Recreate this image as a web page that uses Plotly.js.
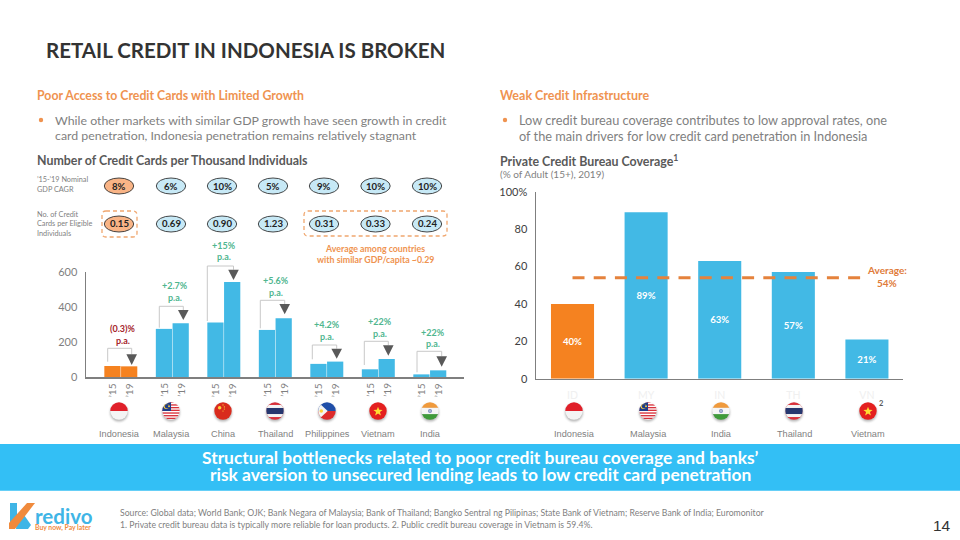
<!DOCTYPE html>
<html>
<head>
<meta charset="utf-8">
<script src="https://cdn.plot.ly/plotly-3.0.1.min.js"></script>
<style>html,body{margin:0;padding:0;background:#fff}#c{width:960px;height:540px}</style>
</head>
<body>
<div id="c"></div>
<script>
// ---- data ----
const countries = ["Indonesia","Malaysia","China","Thailand","Philippines","Vietnam","India"];
const cards2015 = [63,275,311,269,75,44,15];
const cards2019 = [61,307,543,336,88,103,38];
const growthLabels = ["(0.3)%","+2.7%","+15%","+5.6%","+4.2%","+22%","+22%"];
const gdpCagr = ["8%","6%","10%","5%","9%","10%","10%"];
const cardsPerEligible = ["0.15","0.69","0.90","1.23","0.31","0.33","0.24"];
const leftTicks = [0,200,400,600];
const coverageCodes = ["ID","MY","IN","TH","VN"];
const coverageNames = ["Indonesia","Malaysia","India","Thailand","Vietnam"];
const coverageValues = [40,89,63,57,21];
const coverageAverage = [54,54];
const rightTicks = [0,20,40,60,80,100];
const rightTickText = ["0","20","40","60","80","100%"];

// ---- styling ----
const F = "Lato, Carlito, sans-serif", ARIAL = "'Liberation Sans', Arial, sans-serif";
const BLUE="#42B9E5", ORANGE="#F58220", LORANGE="#EF9350", GREEN="#4FB68F", RED="#A5232A", GRAY="#7F7F7F", DARK="#595959";
const px=x=>x/960, py=y=>1-y/540;
const ann=[], shapes=[], images=[];
function T(text,x,y,size,color,bold,anchor,font){
  const a=anchor||"left";
  ann.push({text:bold?"<b>"+text+"</b>":text,xref:"paper",yref:"paper",x:px(a==="left"?x-1:x),y:py(y),xanchor:a,yanchor:"middle",
    showarrow:false,borderpad:0,font:{family:font||F,size:size,color:color}});
}
function P(pts,opts){ // pts: [[x,y],...]
  const d=pts.map((p,i)=>(i?"L":"M")+px(p[0])+","+py(p[1])).join(" ")+(opts.close?" Z":"");
  shapes.push({type:"path",xref:"paper",yref:"paper",path:d,line:{color:opts.line||"rgba(0,0,0,0)",width:opts.w||0,dash:opts.dash||"solid"},fillcolor:opts.fill||"rgba(0,0,0,0)",layer:opts.layer||"above"});
}
function E(cx,cy,rx,ry,fill,line,w){
  shapes.push({type:"circle",xref:"paper",yref:"paper",x0:px(cx-rx),x1:px(cx+rx),y0:py(cy+ry),y1:py(cy-ry),fillcolor:fill,line:{color:line||fill,width:w||0}});
}
function roundBox(x0,y0,x1,y1,r){
  const d=`M${px(x0+r)},${py(y0)} L${px(x1-r)},${py(y0)} Q${px(x1)},${py(y0)} ${px(x1)},${py(y0+r)} L${px(x1)},${py(y1-r)} Q${px(x1)},${py(y1)} ${px(x1-r)},${py(y1)} L${px(x0+r)},${py(y1)} Q${px(x0)},${py(y1)} ${px(x0)},${py(y1-r)} L${px(x0)},${py(y0+r)} Q${px(x0)},${py(y0)} ${px(x0+r)},${py(y0)} Z`;
  shapes.push({type:"path",xref:"paper",yref:"paper",path:d,line:{color:"#F0A76F",width:1.3,dash:"4px,3px"}});
}

// ---- flags ----
const flagArt={
 Indonesia:`<rect width="28" height="14" fill="#E0202A"/><rect y="14" width="28" height="14" fill="#F4F4F4"/>`,
 Malaysia:`<rect width="28" height="28" fill="#fff"/><g fill="#D8303A"><rect width="28" height="2"/><rect y="4" width="28" height="2"/><rect y="8" width="28" height="2"/><rect y="12" width="28" height="2"/><rect y="16" width="28" height="2"/><rect y="20" width="28" height="2"/><rect y="24" width="28" height="2"/></g><rect width="14" height="14" fill="#1F3C88"/><circle cx="7" cy="7" r="4" fill="#FFD23C"/><circle cx="8.2" cy="7" r="3.4" fill="#1F3C88"/><circle cx="11" cy="7" r="1.4" fill="#FFD23C"/>`,
 China:`<rect width="28" height="28" fill="#D92B1D"/><circle cx="9" cy="9" r="2.6" fill="#FFD23C"/><circle cx="14" cy="5" r=".9" fill="#FFD23C"/><circle cx="16" cy="8" r=".9" fill="#FFD23C"/><circle cx="16" cy="11" r=".9" fill="#FFD23C"/><circle cx="14" cy="14" r=".9" fill="#FFD23C"/>`,
 Thailand:`<rect width="28" height="28" fill="#D8303A"/><rect y="5" width="28" height="18" fill="#F4F4F4"/><rect y="9.5" width="28" height="9" fill="#26376F"/>`,
 Philippines:`<rect width="28" height="14" fill="#1F4EA8"/><rect y="14" width="28" height="14" fill="#DD2B2B"/><path d="M0,0 L15,14 L0,28 Z" fill="#F4F4F4"/><circle cx="5.5" cy="14" r="2.6" fill="#FFD23C"/>`,
 Vietnam:`<rect width="28" height="28" fill="#E4201F"/><path d="M14,7.5 L15.8,12.3 L20.9,12.4 L16.9,15.6 L18.3,20.5 L14,17.7 L9.7,20.5 L11.1,15.6 L7.1,12.4 L12.2,12.3 Z" fill="#FFDD33"/>`,
 India:`<rect width="28" height="9.3" fill="#F09A3C"/><rect y="9.3" width="28" height="9.4" fill="#F6F6F6"/><rect y="18.7" width="28" height="9.3" fill="#3F9B3A"/><circle cx="14" cy="14" r="3" fill="#7F8FBF"/><circle cx="14" cy="14" r="1" fill="#F6F6F6"/>`
};
function flag(name,cx,cy){
  const svg=`<svg xmlns="http://www.w3.org/2000/svg" width="120" height="120" viewBox="0 0 32 32"><defs><filter id="b" x="-30%" y="-30%" width="160%" height="160%"><feGaussianBlur stdDeviation="1"/></filter><clipPath id="k"><circle cx="16" cy="16" r="8.7"/></clipPath></defs><ellipse cx="16" cy="17.6" rx="9" ry="9" fill="#777" opacity=".55" filter="url(#b)"/><g clip-path="url(#k)"><g transform="translate(6.6,6.6) scale(.672)">${flagArt[name]}</g></g></svg>`;
  images.push({source:"data:image/svg+xml;charset=utf-8,"+encodeURIComponent(svg),xref:"paper",yref:"paper",x:px(cx-16),y:py(cy-16),sizex:32/960,sizey:32/540,sizing:"stretch",xanchor:"left",yanchor:"top",layer:"above"});
}

// ---- slide text ----
T("RETAIL CREDIT IN INDONESIA IS BROKEN",46,50,20.5,"#333333",true);
T("Poor Access to Credit Cards with Limited Growth",37,95,12.3,LORANGE,true);
E(41,120,2.2,2.2,LORANGE);
T("While other markets with similar GDP growth have seen growth in credit",55,120,12.35,GRAY);
T("card penetration, Indonesia penetration remains relatively stagnant",55,136,12.35,GRAY);
T("Number of Credit Cards per Thousand Individuals",37,160,12.4,DARK,true);
T("’15-’19 Nominal",37,179,7.3,GRAY); T("GDP CAGR",37,189,7.3,GRAY);
T("No. of Credit",37,214.5,7.3,GRAY); T("Cards per Eligible",37,224,7.3,GRAY); T("Individuals",37,233.5,7.3,GRAY);

T("Weak Credit Infrastructure",499.5,95,12.5,LORANGE,true);
E(505,120,2.2,2.2,LORANGE);
T("Low credit bureau coverage contributes to low approval rates, one",519,120,12.75,GRAY);
T("of the main drivers for low credit card penetration in Indonesia",519,136,12.75,GRAY);
T("Private Credit Bureau Coverage<sup>1</sup>",500,160,12.4,DARK,true);
T("(% of Adult (15+), 2019)",500,173.5,10,GRAY);

// ---- banner and footer ----
shapes.push({type:"rect",xref:"paper",yref:"paper",x0:0,x1:1,y0:py(490.7),y1:py(444),fillcolor:"#33BFF5",line:{width:0},layer:"below"});
T("Structural bottlenecks related to poor credit bureau coverage and banks’",480,457.5,17.4,"#fff",true,"center");
T("risk aversion to unsecured lending leads to low credit card penetration",480,474,17.4,"#fff",true,"center");
T("Source: Global data; World Bank; OJK; Bank Negara of Malaysia; Bank of Thailand; Bangko Sentral ng Pilipinas; State Bank of Vietnam; Reserve Bank of India; Euromonitor",120,512.5,8.68,GRAY);
T("1. Private credit bureau data is typically more reliable for loan products. 2. Public credit bureau coverage in Vietnam is 59.4%.",120,524,8.68,GRAY);
T("14",941.7,525,15.5,"#333333",false,"center",ARIAL);
// logo
P([[10,503],[17,503],[17,516],[10,523]],{fill:"#3FB5E6",close:true});
P([[16,529],[28,529],[31,525],[22,512],[17,517]],{fill:"#3FB5E6",close:true});
P([[27,503],[35,503],[15,529],[9,529],[9,523]],{fill:"#F08A3C",close:true});
T("redivo",35,515.5,20.5,"#3FB5E6",true);
T("Buy now, Pay later",35,527.5,6.8,"#F08A3C",true);

// ---- left chart decorations ----
const bubbleX=[119,171,222,273,324,375.5,427];
gdpCagr.forEach((t,i)=>{E(bubbleX[i],186,14.7,8,i?"#C7E9F6":"#F9B486","#333333",0.9);T(t,bubbleX[i],186,9.6,"#222",true,"center");});
cardsPerEligible.forEach((t,i)=>{E(bubbleX[i],224,14.7,8,i?"#C7E9F6":"#F9B486","#333333",0.9);T(t,bubbleX[i],224,9.6,"#222",true,"center");});
roundBox(102,211,137,237,4); roundBox(304,211,447,236,4);
T("Average among countries",375,248,8.8,LORANGE,true,"center");
T("with similar GDP/capita ~0.29",375,259,8.8,LORANGE,true,"center");

const bracket=[ // [left x, top y, left-leg bottom y, right x, tri top y, tri bottom y] in slide pixels
 [107.7,348.3,361.7,131.7,354.3,365],[159.3,306.3,327.7,183.3,310,320],[207.3,266,321,233.5,269.7,280],
 [260.3,300.3,328.3,284.7,304,314.3],[312.3,345,359.3,336.7,348.7,358.7],[364.3,341.3,365,388.3,345.3,355.7],[417,351.3,372.3,441.7,356.3,366.7]];
const growthY=[[328.7,340.3],[285.7,297.3],[245.7,257],[280.7,292.3],[324.3,336],[321.7,333.3],[332,343.3]];
const growthX=[123,175,224.3,275.7,327.3,380,433];
bracket.forEach((b,i)=>{
  P([[b[0],b[2]],[b[0],b[1]],[b[3],b[1]],[b[3],b[4]]],{line:"#C8C8C8",w:1});
  P([[b[3]-5.3,b[4]],[b[3]+5.3,b[4]],[b[3],b[5]]],{fill:"#595959",close:true});
  const c=i?GREEN:RED;
  T(growthLabels[i],growthX[i],growthY[i][0],9,c,true,"center");
  T("p.a.",growthX[i],growthY[i][1],9,c,true,"center");
});
const flagX=[119,171,223,275,327,378,430];
countries.forEach((c,i)=>{
  flag(c,flagX[i],411);
  T(c,flagX[i],433.5,9.2,GRAY,false,"center",ARIAL);
  ann.push({text:"’15",xref:"x",yref:"paper",x:c,xshift:-8.5,y:py(390),yanchor:"middle",xanchor:"center",textangle:-90,showarrow:false,borderpad:0,font:{family:F,size:10,color:GRAY}});
  ann.push({text:"’19",xref:"x",yref:"paper",x:c,xshift:8.5,y:py(390),yanchor:"middle",xanchor:"center",textangle:-90,showarrow:false,borderpad:0,font:{family:F,size:10,color:GRAY}});
});

// ---- right chart decorations ----
const flagR=[574,648,721,794,868];
coverageNames.forEach((c,i)=>{flag(c,flagR[i],411);T(c,flagR[i],433.5,9.2,GRAY,false,"center",ARIAL);});
T("2",880.7,403,7.5,DARK,true,"center");
T("Average:",886.7,270,10,"#E07B39",true,"center");
T("54%",886.7,283,10,"#E07B39",true,"center");

const barColors=(n)=>Array.from({length:n},(_,i)=>i?BLUE:ORANGE);
const traces=[
 {type:"bar",name:"2015",x:countries,y:cards2015,marker:{color:barColors(7)},xaxis:"x",yaxis:"y",hoverinfo:"skip"},
 {type:"bar",name:"2019",x:countries,y:cards2019,marker:{color:barColors(7)},xaxis:"x",yaxis:"y",hoverinfo:"skip"},
 {type:"bar",name:"Coverage",x:coverageCodes,y:coverageValues,marker:{color:barColors(5)},xaxis:"x2",yaxis:"y2",
  width:0.585,offset:-0.2925,texttemplate:"<b>%{y}%</b>",textposition:"inside",insidetextanchor:"middle",textangle:0,textfont:{family:F,size:9.6,color:"#fff"},hoverinfo:"skip"},
 {type:"scatter",mode:"lines",name:"Average",x:[coverageCodes[0],coverageCodes[4]],y:coverageAverage,line:{color:"#E5823C",width:3,dash:"12px,9.2px"},xaxis:"x2",yaxis:"y2",hoverinfo:"skip"}
];
const tickF=(c,s)=>({family:F,size:s,color:c});
const layout={
 width:960,height:540,margin:{l:0,r:0,t:0,b:0},paper_bgcolor:"#fff",plot_bgcolor:"rgba(0,0,0,0)",showlegend:false,
 barmode:"group",bargap:0.35,bargroupgap:0.03,
 xaxis:{type:"category",domain:[px(86),px(464)],range:[-0.676,6.664],showticklabels:false,ticks:"",showgrid:false,zeroline:false,showline:true,linecolor:"#7F7F7F",linewidth:1.5,anchor:"y",fixedrange:true},
 yaxis:{domain:[py(377),py(272)],range:[0,600],tickvals:leftTicks,ticktext:leftTicks.map(String),tickfont:tickF(GRAY,11),ticks:"",showgrid:false,zeroline:false,showline:true,linecolor:"#7F7F7F",linewidth:1.5,anchor:"x",ticklabelstandoff:5,fixedrange:true},
 xaxis2:{type:"category",categoryorder:"array",categoryarray:coverageCodes,domain:[px(536),px(903)],range:[-0.496,4.49],tickfont:tickF("#F0F0F0",10.5),ticks:"",ticklabelstandoff:6,showgrid:false,zeroline:false,showline:true,linecolor:"#7F7F7F",linewidth:1.5,anchor:"y2",fixedrange:true},
 yaxis2:{domain:[py(378.7),py(191.7)],range:[0,100],tickvals:rightTicks,ticktext:rightTickText,tickfont:tickF("#404040",11),ticks:"",ticklabelstandoff:5,showgrid:false,zeroline:false,showline:true,linecolor:"#7F7F7F",linewidth:1.5,anchor:"x2",fixedrange:true},
 annotations:ann,shapes:shapes,images:images
};
Plotly.newPlot("c",traces,layout,{displayModeBar:false,staticPlot:true});
</script>
</body>
</html>
